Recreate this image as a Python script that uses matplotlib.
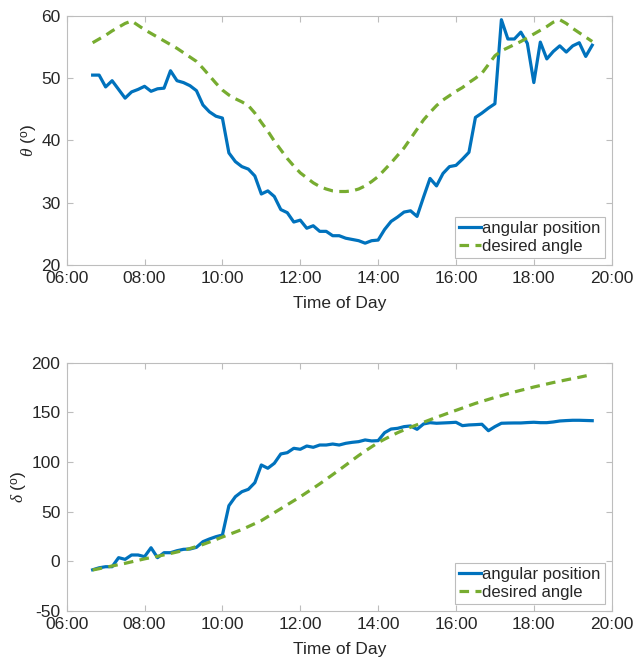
import numpy as np
import matplotlib
matplotlib.use("Agg")
import matplotlib.pyplot as plt
import matplotlib.dates as mdates
import pandas as pd

plt.rcParams['font.family'] = ['Liberation Sans', 'DejaVu Sans']
plt.rcParams['mathtext.fontset'] = 'custom'
plt.rcParams['mathtext.it'] = 'Liberation Serif:italic'
plt.rcParams['mathtext.rm'] = 'Liberation Sans'
plt.rcParams['axes.unicode_minus'] = False

# samples every 10 min, 06:40 -> 19:30
times = pd.date_range("2020-01-01 06:40", "2020-01-01 19:30", freq="10min")

theta_pos = [50.5, 50.5, 48.6, 49.6, 48.2, 46.8, 47.8, 48.2, 48.7, 47.9,
             48.3, 48.4, 51.2, 49.6, 49.3, 48.8, 48.0, 45.7, 44.6, 43.9,
             43.6, 38.0, 36.6, 35.8, 35.4, 34.3, 31.4, 31.9, 31.0, 28.9,
             28.4, 26.9, 27.2, 25.9, 26.3, 25.4, 25.4, 24.7, 24.7, 24.3,
             24.1, 23.9, 23.5, 23.9, 24.0, 25.7, 27.0, 27.7, 28.5, 28.7,
             27.8, 30.9, 33.9, 32.7, 34.7, 35.8, 36.0, 37.0, 38.1, 43.7,
             44.4, 45.2, 45.9, 59.4, 56.3, 56.3, 57.4, 55.6, 49.3, 55.8,
             53.1, 54.3, 55.2, 54.2, 55.2, 55.7, 53.5, 55.3]

theta_des = [55.7, 56.3, 56.9, 57.6, 58.2, 58.8, 59.2, 58.5, 57.8, 57.2,
             56.6, 56.0, 55.4, 54.8, 54.1, 53.4, 52.7, 51.6, 50.4, 49.2,
             48.1, 47.3, 46.7, 46.2, 45.6, 44.4, 42.9, 41.5, 39.9, 38.5,
             37.1, 35.9, 34.8, 34.0, 33.2, 32.6, 32.2, 31.9, 31.8, 31.8,
             31.9, 32.2, 32.7, 33.4, 34.2, 35.3, 36.4, 37.6, 38.8, 40.3,
             41.8, 43.3, 44.5, 45.6, 46.5, 47.2, 47.9, 48.5, 49.3, 50.0,
             50.8, 52.2, 53.6, 54.4, 54.9, 55.4, 55.9, 56.5, 57.1, 57.7,
             58.3, 59.0, 59.4, 58.8, 58.0, 57.3, 56.6, 55.9]

delta_pos = [-8.5, -6.5, -5.4, -5.4, 3.7, 2.0, 6.4, 6.4, 4.7, 13.7,
             3.7, 8.7, 8.7, 10.7, 12.1, 12.4, 14.1, 19.8, 22.5, 24.8,
             26.5, 56.0, 65.1, 70.1, 72.5, 79.2, 97.0, 93.7, 98.7, 108.1,
             109.4, 113.8, 112.8, 116.1, 114.8, 117.1, 117.1, 118.1, 117.1, 118.8,
             119.8, 120.5, 122.2, 121.2, 121.5, 129.5, 133.2, 133.9, 135.6, 136.3,
             132.9, 138.3, 139.6, 139.0, 139.3, 139.6, 140.0, 136.6, 137.3, 137.6,
             138.0, 131.5, 135.6, 139.0, 139.2, 139.3, 139.3, 139.7, 140.0, 139.6,
             139.6, 140.3, 141.3, 141.7, 142.0, 142.0, 141.8, 141.6]

delta_des = [-8.7, -7.4, -6.0, -4.7, -3.3, -2.0, -0.5, 1.0, 2.5, 3.8,
             5.1, 6.5, 7.9, 9.4, 11.0, 12.9, 14.9, 17.0, 19.4, 21.9,
             24.5, 27.0, 29.5, 32.0, 35.0, 38.0, 41.0, 45.0, 49.0, 53.0,
             57.0, 61.0, 65.0, 69.3, 73.6, 78.0, 82.6, 87.3, 92.0, 96.8,
             101.7, 106.5, 111.0, 115.3, 119.5, 123.0, 126.3, 129.5, 132.3, 135.0,
             137.5, 140.0, 142.5, 145.0, 147.3, 149.7, 152.0, 154.3, 156.7, 159.0,
             161.0, 163.0, 165.0, 166.8, 168.7, 170.5, 172.2, 173.8, 175.5, 177.0,
             178.5, 180.0, 181.3, 182.7, 184.0, 185.3, 186.7, 188.0]

blue = '#0072BD'
green = '#77AC30'
edge = '#BDBDBD'
txt = '#262626'

fig = plt.figure(figsize=(6.34, 6.57), dpi=100)
ax1 = fig.add_axes([0.1052, 0.5967, 0.8596, 0.3790])
ax2 = fig.add_axes([0.1052, 0.0700, 0.8596, 0.3780])

panels = [
    (ax1, theta_pos, theta_des, (20, 60), [20, 30, 40, 50, 60], r'$\theta$ ($^\mathrm{o}$)'),
    (ax2, delta_pos, delta_des, (-50, 200), [-50, 0, 50, 100, 150, 200], r'$\delta$ ($^\mathrm{o}$)'),
]

for ax, pos, des, ylim, yticks, ylab in panels:
    ax.plot(times, pos, color=blue, lw=2.3, label='angular position')
    ax.plot(times, des, color=green, lw=2.3, ls=(0, (3, 2)), label='desired angle')
    ax.set_xlim(pd.Timestamp("2020-01-01 06:00"), pd.Timestamp("2020-01-01 20:00"))
    ax.set_ylim(*ylim)
    ax.set_yticks(yticks)
    ax.xaxis.set_major_locator(mdates.HourLocator(byhour=range(6, 21, 2)))
    ax.xaxis.set_major_formatter(mdates.DateFormatter('%H:%M'))
    ax.tick_params(direction='in', top=True, right=True, length=4, width=0.8,
                   color=edge, labelcolor=txt, labelsize=12.5)
    ax.tick_params(axis='y', pad=4.5)
    ax.tick_params(axis='x', pad=4.5)
    for s in ax.spines.values():
        s.set_color(edge)
        s.set_linewidth(0.8)
    ax.set_xlabel('Time of Day', fontsize=12.5, color=txt, labelpad=7)
    ax.set_ylabel(ylab, fontsize=12.5, color=txt, labelpad=1)
    leg = ax.legend(loc='lower right', fontsize=12, handlelength=1.3,
                    handletextpad=0.1, borderpad=0.25, labelspacing=0.2,
                    borderaxespad=0.4, fancybox=False, framealpha=1)
    leg.get_frame().set_edgecolor(edge)
    leg.get_frame().set_linewidth(0.8)
    for t in leg.get_texts():
        t.set_color(txt)

fig.savefig('out.png', dpi=100)
